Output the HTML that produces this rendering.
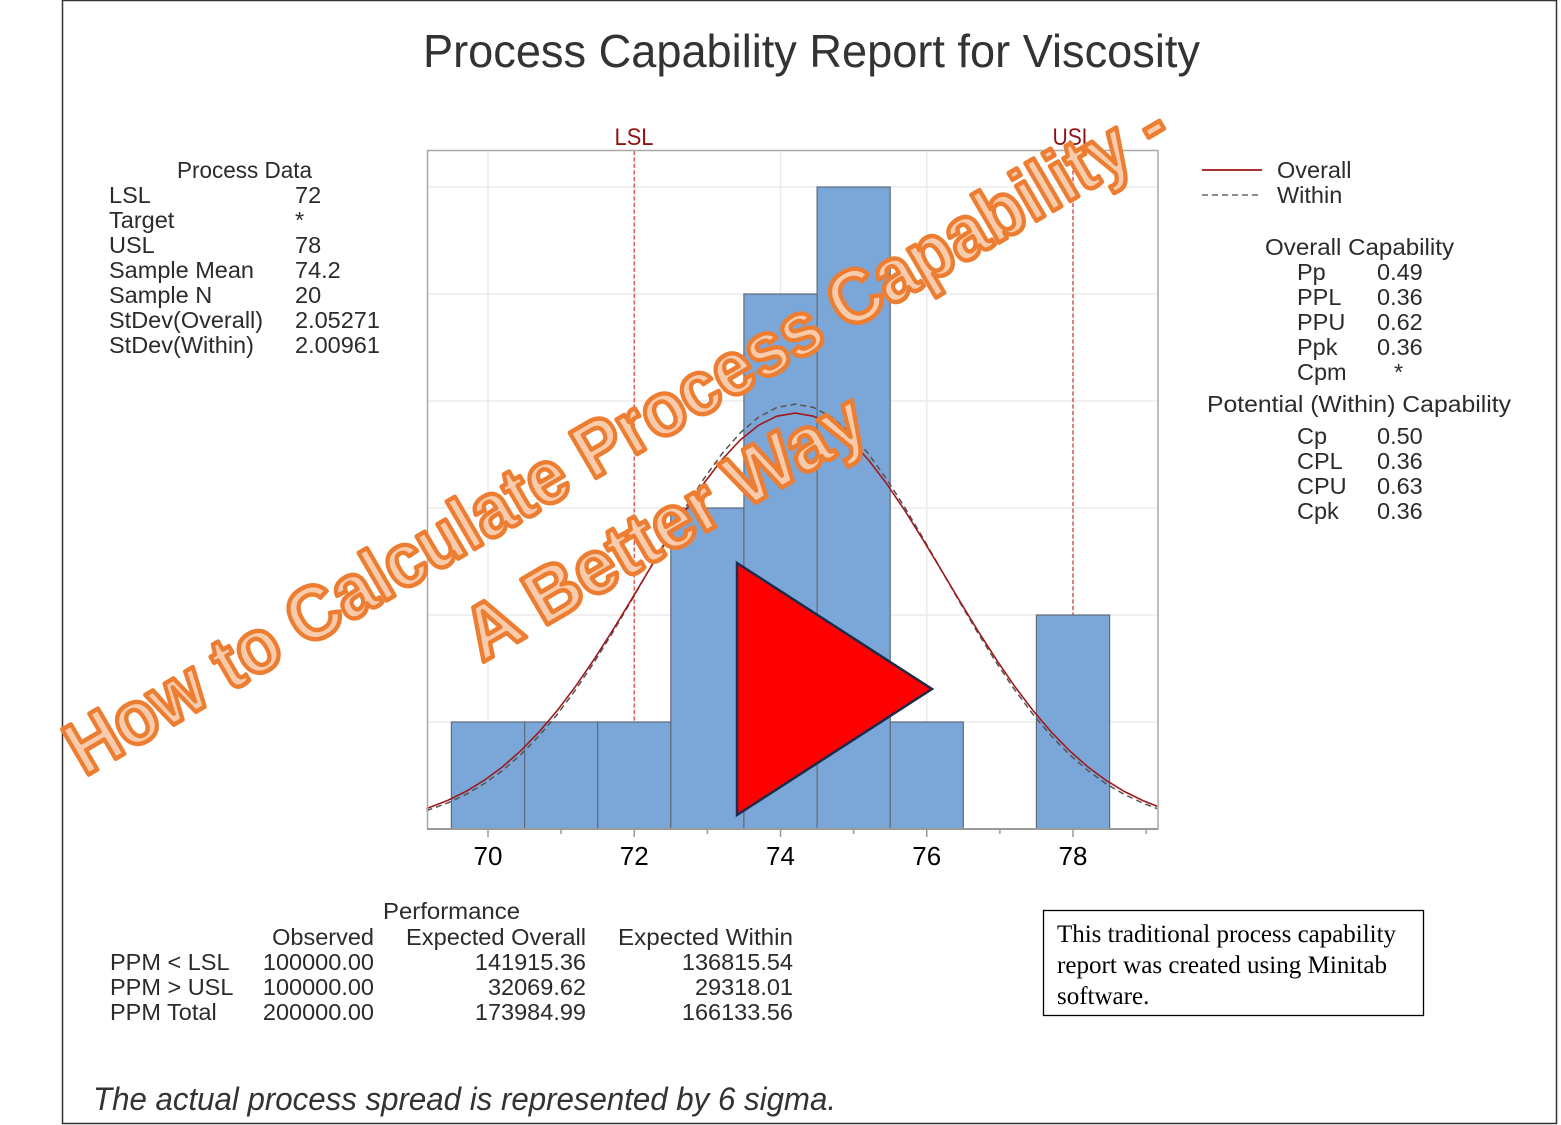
<!DOCTYPE html>
<html>
<head>
<meta charset="utf-8">
<style>
html,body{margin:0;padding:0;background:#fff;}
svg{display:block;}
</style>
</head>
<body>
<svg width="1561" height="1125" viewBox="0 0 1561 1125" xmlns="http://www.w3.org/2000/svg" font-family="'Liberation Sans', Arial, sans-serif">
  <rect x="0" y="0" width="1561" height="1125" fill="#fff"/>
  <!-- page border -->
  <path d="M62.5,0 L62.5,1123.5 L1556.5,1123.5 L1556.5,0.5 L62.5,0.5" fill="none" stroke="#333" stroke-width="1.5"/>

  <!-- Title -->
  <text x="423" y="67" font-size="46" fill="#333" textLength="777" lengthAdjust="spacingAndGlyphs">Process Capability Report for Viscosity</text>

  <!-- Process Data -->
  <g font-size="23.5" fill="#2b2b2b">
    <text x="177" y="178" textLength="135" lengthAdjust="spacingAndGlyphs">Process Data</text>
    <text x="109" y="203">LSL</text>
    <text x="109" y="228">Target</text>
    <text x="109" y="253">USL</text>
    <text x="109" y="278">Sample Mean</text>
    <text x="109" y="303">Sample N</text>
    <text x="109" y="328">StDev(Overall)</text>
    <text x="109" y="353">StDev(Within)</text>
    <text x="295" y="203">72</text>
    <text x="295" y="228">*</text>
    <text x="295" y="253">78</text>
    <text x="295" y="278">74.2</text>
    <text x="295" y="303">20</text>
    <text x="295" y="328">2.05271</text>
    <text x="295" y="353">2.00961</text>
  </g>

  <!-- Plot grid -->
  <g stroke="#ebebeb" stroke-width="1.5">
    <line x1="428" y1="187" x2="1157" y2="187"/>
    <line x1="428" y1="294" x2="1157" y2="294"/>
    <line x1="428" y1="401" x2="1157" y2="401"/>
    <line x1="428" y1="508" x2="1157" y2="508"/>
    <line x1="428" y1="615" x2="1157" y2="615"/>
    <line x1="428" y1="722" x2="1157" y2="722"/>
    <line x1="488" y1="151" x2="488" y2="828"/>
    <line x1="634.25" y1="151" x2="634.25" y2="828"/>
    <line x1="780.5" y1="151" x2="780.5" y2="828"/>
    <line x1="926.75" y1="151" x2="926.75" y2="828"/>
    <line x1="1073" y1="151" x2="1073" y2="828"/>
  </g>

  <!-- LSL / USL reference lines -->
  <line x1="634.25" y1="151" x2="634.25" y2="828" stroke="#e04545" stroke-width="1.3" stroke-dasharray="4 2.5"/>
  <line x1="1073" y1="151" x2="1073" y2="828" stroke="#c84545" stroke-width="1.3" stroke-dasharray="4 2.5"/>
  <text x="634" y="145" font-size="24" fill="#8e1414" text-anchor="middle" textLength="39" lengthAdjust="spacingAndGlyphs">LSL</text>
  <text x="1073" y="145" font-size="24" fill="#8e1414" text-anchor="middle" textLength="41" lengthAdjust="spacingAndGlyphs">USL</text>

  <!-- Histogram bars -->
  <g fill="#7ba6d8" stroke="#5f6b7c" stroke-width="1.2">
    <rect x="451.4" y="722" width="73.2" height="107"/>
    <rect x="524.6" y="722" width="73.1" height="107"/>
    <rect x="597.7" y="722" width="73.1" height="107"/>
    <rect x="670.8" y="508" width="73.1" height="321"/>
    <rect x="743.9" y="294" width="73.2" height="535"/>
    <rect x="817.1" y="187" width="73.1" height="642"/>
    <rect x="890.2" y="722" width="73.1" height="107"/>
    <rect x="1036.4" y="615" width="73.2" height="214"/>
  </g>

  <!-- Within (dashed) curve -->
  <path fill="none" stroke="#555" stroke-width="1.5" stroke-dasharray="6 4" d="M426.58,810.70 L447.78,802.99 L466.06,794.38 L484.34,783.61 L502.63,770.40 L520.91,754.51 L539.19,735.77 L557.47,714.11 L575.75,689.58 L594.03,662.43 L612.31,633.05 L630.59,602.01 L648.88,570.09 L667.16,538.23 L685.44,507.46 L703.72,478.89 L722.00,453.64 L740.28,432.75 L758.56,417.12 L776.84,407.45 L795.13,404.17 L813.41,407.45 L831.69,417.12 L849.97,432.75 L868.25,453.64 L886.53,478.89 L904.81,507.46 L923.09,538.23 L941.38,570.09 L959.66,602.01 L977.94,633.05 L996.22,662.43 L1014.50,689.58 L1032.78,714.11 L1051.06,735.77 L1069.34,754.51 L1087.63,770.40 L1105.91,783.61 L1124.19,794.38 L1142.47,802.99 L1157.09,808.55"/>
  <!-- Overall (solid) curve -->
  <path fill="none" stroke="#9e1b1b" stroke-width="1.6" d="M426.58,808.58 L447.78,800.40 L466.06,791.38 L484.34,780.22 L502.63,766.71 L520.91,750.60 L539.19,731.79 L557.47,710.24 L575.75,686.06 L594.03,659.46 L612.31,630.89 L630.59,600.91 L648.88,570.25 L667.16,539.81 L685.44,510.55 L703.72,483.48 L722.00,459.63 L740.28,439.95 L758.56,425.25 L776.84,416.16 L795.13,413.09 L813.41,416.16 L831.69,425.25 L849.97,439.95 L868.25,459.63 L886.53,483.48 L904.81,510.55 L923.09,539.81 L941.38,570.25 L959.66,600.91 L977.94,630.89 L996.22,659.46 L1014.50,686.06 L1032.78,710.24 L1051.06,731.79 L1069.34,750.60 L1087.63,766.71 L1105.91,780.22 L1124.19,791.38 L1142.47,800.40 L1157.09,806.29"/>

  <!-- Plot frame -->
  <rect x="427.5" y="150.5" width="730.5" height="678.5" fill="none" stroke="#a8a8a8" stroke-width="1.5"/>
  <line x1="427" y1="829" x2="1158" y2="829" stroke="#9a9a9a" stroke-width="2"/>

  <!-- ticks -->
  <g stroke="#9a9a9a" stroke-width="1.5">
    <line x1="488" y1="829" x2="488" y2="837"/>
    <line x1="634.25" y1="829" x2="634.25" y2="837"/>
    <line x1="780.5" y1="829" x2="780.5" y2="837"/>
    <line x1="926.75" y1="829" x2="926.75" y2="837"/>
    <line x1="1073" y1="829" x2="1073" y2="837"/>
    <line x1="561.1" y1="829" x2="561.1" y2="834"/>
    <line x1="707.4" y1="829" x2="707.4" y2="834"/>
    <line x1="853.6" y1="829" x2="853.6" y2="834"/>
    <line x1="999.9" y1="829" x2="999.9" y2="834"/>
    <line x1="1146.1" y1="829" x2="1146.1" y2="834"/>
  </g>
  <g font-size="26" fill="#000" text-anchor="middle">
    <text x="488" y="865">70</text>
    <text x="634.25" y="865">72</text>
    <text x="780.5" y="865">74</text>
    <text x="926.75" y="865">76</text>
    <text x="1073" y="865">78</text>
  </g>

  <!-- Legend -->
  <line x1="1202" y1="170" x2="1262" y2="170" stroke="#b03030" stroke-width="2"/>
  <line x1="1202" y1="195" x2="1262" y2="195" stroke="#666" stroke-width="1.6" stroke-dasharray="6 4"/>
  <g font-size="23.5" fill="#2b2b2b">
    <text x="1277" y="178">Overall</text>
    <text x="1277" y="203">Within</text>

    <text x="1265" y="255" textLength="189" lengthAdjust="spacingAndGlyphs">Overall Capability</text>
    <text x="1297" y="280">Pp</text>
    <text x="1297" y="305">PPL</text>
    <text x="1297" y="330">PPU</text>
    <text x="1297" y="355">Ppk</text>
    <text x="1297" y="380">Cpm</text>
    <text x="1377" y="280">0.49</text>
    <text x="1377" y="305">0.36</text>
    <text x="1377" y="330">0.62</text>
    <text x="1377" y="355">0.36</text>
    <text x="1394" y="380">*</text>

    <text x="1207" y="412" textLength="304" lengthAdjust="spacingAndGlyphs">Potential (Within) Capability</text>
    <text x="1297" y="444">Cp</text>
    <text x="1297" y="469">CPL</text>
    <text x="1297" y="494">CPU</text>
    <text x="1297" y="519">Cpk</text>
    <text x="1377" y="444">0.50</text>
    <text x="1377" y="469">0.36</text>
    <text x="1377" y="494">0.63</text>
    <text x="1377" y="519">0.36</text>
  </g>

  <!-- Performance table -->
  <g font-size="23.5" fill="#2b2b2b">
    <text x="383" y="919" textLength="137" lengthAdjust="spacingAndGlyphs">Performance</text>
    <text x="374" y="945" text-anchor="end">Observed</text>
    <text x="586" y="945" text-anchor="end" textLength="180" lengthAdjust="spacingAndGlyphs">Expected Overall</text>
    <text x="793" y="945" text-anchor="end" textLength="175" lengthAdjust="spacingAndGlyphs">Expected Within</text>
    <text x="110" y="970">PPM &lt; LSL</text>
    <text x="110" y="995">PPM &gt; USL</text>
    <text x="110" y="1020">PPM Total</text>
    <text x="374" y="970" text-anchor="end">100000.00</text>
    <text x="374" y="995" text-anchor="end">100000.00</text>
    <text x="374" y="1020" text-anchor="end">200000.00</text>
    <text x="586" y="970" text-anchor="end">141915.36</text>
    <text x="586" y="995" text-anchor="end">32069.62</text>
    <text x="586" y="1020" text-anchor="end">173984.99</text>
    <text x="793" y="970" text-anchor="end">136815.54</text>
    <text x="793" y="995" text-anchor="end">29318.01</text>
    <text x="793" y="1020" text-anchor="end">166133.56</text>
  </g>

  <!-- Footer -->
  <text x="93" y="1110" font-size="32" font-style="italic" fill="#333" textLength="743" lengthAdjust="spacingAndGlyphs">The actual process spread is represented by 6 sigma.</text>

  <!-- Note box -->
  <rect x="1043.5" y="910.5" width="380" height="105" fill="#fff" stroke="#000" stroke-width="1.3"/>
  <g font-family="'Liberation Serif', 'Times New Roman', serif" font-size="25" fill="#000">
    <text x="1057" y="942" textLength="339" lengthAdjust="spacingAndGlyphs">This traditional process capability</text>
    <text x="1057" y="973" textLength="330" lengthAdjust="spacingAndGlyphs">report was created using Minitab</text>
    <text x="1057" y="1004">software.</text>
  </g>

  <!-- Watermark WordArt -->
  <g transform="translate(629.3,458.6) rotate(-30.3)" font-family="'Liberation Sans', Arial, sans-serif" font-weight="bold" font-size="76" fill="#f8cbad" stroke="#ed7d31" stroke-width="4.5" stroke-linejoin="round" text-anchor="middle">
    <text x="0" y="0" textLength="1262" lengthAdjust="spacingAndGlyphs">How to Calculate Process Capability -</text>
    <text x="-4" y="102" textLength="452" lengthAdjust="spacingAndGlyphs">A Better Way</text>
  </g>

  <!-- Red play triangle -->
  <polygon points="737,563 737,815 932,689" fill="#ff0000" stroke="#1c2b4a" stroke-width="2.5" stroke-linejoin="miter"/>
</svg>
</body>
</html>
